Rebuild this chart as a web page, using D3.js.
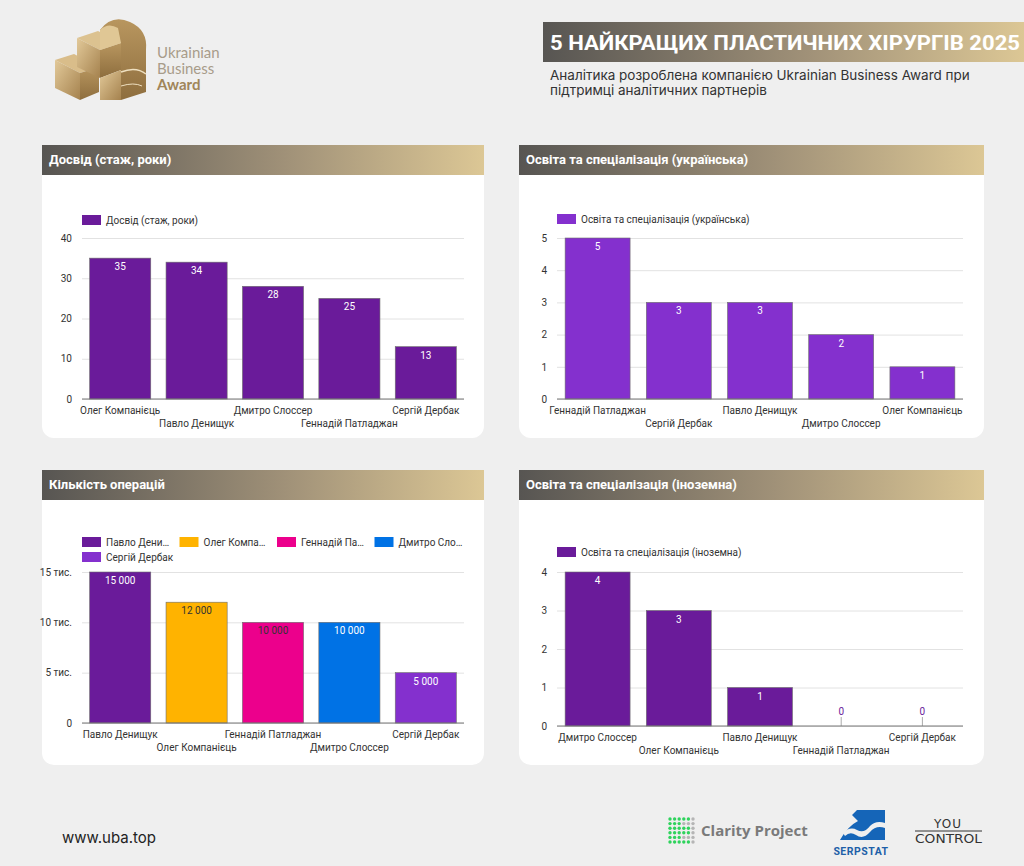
<!DOCTYPE html>
<html lang="uk">
<head>
<meta charset="UTF-8">
<title>5 найкращих пластичних хірургів 2025</title>
<style>
  body { margin: 0; background: #efefef; }
  svg { display: block; }
</style>
</head>
<body>
<div class="canvas"></div>
<script src="https://cdnjs.cloudflare.com/ajax/libs/d3/7.8.5/d3.min.js"></script>
<script>
// ---- data ----
const expNames = ['Олег Компанієць', 'Павло Денищук', 'Дмитро Слоссер', 'Геннадій Патладжан', 'Сергій Дербак'];
const expValues = [35, 34, 28, 25, 13];
const expTicks = [0, 10, 20, 30, 40];

const uaNames = ['Геннадій Патладжан', 'Сергій Дербак', 'Павло Денищук', 'Дмитро Слоссер', 'Олег Компанієць'];
const uaValues = [5, 3, 3, 2, 1];
const uaTicks = [0, 1, 2, 3, 4, 5];

const opsNames = ['Павло Денищук', 'Олег Компанієць', 'Геннадій Патладжан', 'Дмитро Слоссер', 'Сергій Дербак'];
const opsValues = [15000, 12000, 10000, 10000, 5000];
const opsTicks = [0, 5000, 10000, 15000];
const opsTickLabels = ['0', '5 тис.', '10 тис.', '15 тис.'];
const opsLegend = ['Павло Дени…', 'Олег Компа…', 'Геннадій Па…', 'Дмитро Сло…', 'Сергій Дербак'];
const opsColors = ['#6a1b9a', '#ffb300', '#ec008c', '#0072e5', '#8430ce'];

const intNames = ['Дмитро Слоссер', 'Олег Компанієць', 'Павло Денищук', 'Геннадій Патладжан', 'Сергій Дербак'];
const intValues = [4, 3, 1, 0, 0];
const intTicks = [0, 1, 2, 3, 4];

const svg = d3.select('.canvas').append('svg')
  .attr('width', 1024)
  .attr('height', 866);

svg.append('rect').attr('width', 1024).attr('height', 866).attr('fill', '#efefef');

const defs = svg.append('defs');
const grad = defs.append('linearGradient').attr('id', 'hdr').attr('x1', 0).attr('x2', 1);
grad.append('stop').attr('offset', 0).attr('stop-color', '#575552');
grad.append('stop').attr('offset', 0.55).attr('stop-color', '#a09178');
grad.append('stop').attr('offset', 1).attr('stop-color', '#dcc795');

const gold = defs.append('linearGradient').attr('id', 'gold').attr('x1', 0).attr('y1', 0).attr('x2', 1).attr('y2', 1);
gold.append('stop').attr('offset', 0).attr('stop-color', '#e2c999');
gold.append('stop').attr('offset', 1).attr('stop-color', '#a5824e');
const goldDark = defs.append('linearGradient').attr('id', 'goldDark').attr('x1', 0).attr('y1', 0).attr('x2', 0).attr('y2', 1);
goldDark.append('stop').attr('offset', 0).attr('stop-color', '#b8965f');
goldDark.append('stop').attr('offset', 1).attr('stop-color', '#8e6e3e');

// ---- logo ----
const logo = svg.append('g');
// left block
logo.append('path').attr('d', 'M55,60 L74,54 L99,67 L80,73 Z').attr('fill', '#d9bd8a');
logo.append('path').attr('d', 'M55,60 L80,73 L80,100 L55,88 Z').attr('fill', 'url(#gold)');
logo.append('path').attr('d', 'M80,73 L99,67 L99,92 L80,100 Z').attr('fill', 'url(#goldDark)');
// middle block
logo.append('path').attr('d', 'M77,38 L98,31 L121,43 L100,50 Z').attr('fill', '#dcc290');
logo.append('path').attr('d', 'M77,38 L100,50 L100,78 L77,67 Z').attr('fill', 'url(#gold)');
logo.append('path').attr('d', 'M100,50 L121,43 L121,70 L100,78 Z').attr('fill', 'url(#goldDark)');
// right tall block, rounded top
logo.append('path').attr('d', 'M100,30 Q112,14 130,22 Q148,30 146,50 L146,92 L121,100 L121,43 Z').attr('fill', 'url(#goldDark)');
logo.append('path').attr('d', 'M100,30 Q108,22 118,28 L121,43 L100,50 Z').attr('fill', '#e0c795');
logo.append('path').attr('d', 'M100,78 L121,70 L121,100 L100,100 Z').attr('fill', 'url(#gold)');
logo.append('path').attr('d', 'M121,72 Q136,66 146,74').attr('fill', 'none').attr('stroke', '#efe0c0').attr('stroke-width', 1.5);
logo.append('path').attr('d', 'M121,86 Q134,82 142,86').attr('fill', 'none').attr('stroke', '#efe0c0').attr('stroke-width', 1);

logo.append('text').attr('x', 157).attr('y', 58).text('Ukrainian')
  .style('font-family', 'Lato, sans-serif').style('font-size', '15px').attr('fill', '#a89c8a');
logo.append('text').attr('x', 157).attr('y', 74).text('Business')
  .style('font-family', 'Lato, sans-serif').style('font-size', '15px').attr('fill', '#a89c8a');
logo.append('text').attr('x', 157).attr('y', 90).text('Award')
  .style('font-family', 'Lato, sans-serif').style('font-size', '15px').style('font-weight', 'bold').attr('fill', '#a0855a');

// ---- title ----
svg.append('rect').attr('x', 543).attr('y', 22).attr('width', 481).attr('height', 40).attr('fill', 'url(#hdr)');
svg.append('text').attr('x', 550).attr('y', 50)
  .text('5 НАЙКРАЩИХ ПЛАСТИЧНИХ ХІРУРГІВ 2025')
  .attr('textLength', 470).attr('lengthAdjust', 'spacingAndGlyphs')
  .style('font-family', 'Roboto, sans-serif').style('font-weight', 'bold').style('font-size', '21px')
  .attr('fill', '#fff');
svg.append('text').attr('x', 550).attr('y', 80)
  .text('Аналітика розроблена компанією Ukrainian Business Award при')
  .style('font-family', 'Inter, sans-serif').style('font-size', '13.5px').attr('fill', '#333');
svg.append('text').attr('x', 550).attr('y', 95)
  .text('підтримці аналітичних партнерів')
  .style('font-family', 'Inter, sans-serif').style('font-size', '13.5px').attr('fill', '#333');

// ---- panels ----
function drawPanel(p) {
  const g = svg.append('g');
  g.append('rect').attr('x', p.x).attr('y', p.y).attr('width', p.w).attr('height', p.h)
    .attr('rx', 12).attr('fill', '#fff');
  g.append('rect').attr('x', p.x).attr('y', p.y).attr('width', p.w).attr('height', 30)
    .attr('fill', 'url(#hdr)');
  g.append('text').attr('x', p.x + 7).attr('y', p.y + 19).text(p.title)
    .style('font-family', 'Roboto, sans-serif').style('font-weight', 'bold').style('font-size', '13px')
    .attr('fill', '#fff');

  const x = d3.scaleBand().domain(p.names).range(p.xr).paddingInner(0.2).paddingOuter(0.1);
  const y = d3.scaleLinear().domain(p.dom).range(p.yr);

  // grid + y labels
  const yAxis = d3.axisLeft(y).tickValues(p.ticks).tickSize(-(p.xr[1] - p.xr[0])).tickPadding(10)
    .tickFormat((d, i) => p.tickLabels ? p.tickLabels[i] : d);
  const ya = g.append('g').attr('transform', `translate(${p.xr[0]},0)`).call(yAxis);
  ya.select('.domain').remove();
  ya.selectAll('line').attr('stroke', '#e2e2e2');
  ya.selectAll('text').style('font-family', 'Roboto, sans-serif').style('font-size', '10px').attr('fill', '#333');

  // bars with value labels
  p.values.forEach((v, i) => {
    const bx = x(p.names[i]);
    const cx = bx + x.bandwidth() / 2;
    if (v > 0) {
      g.append('rect')
        .attr('x', bx).attr('y', y(v))
        .attr('width', x.bandwidth()).attr('height', y(0) - y(v))
        .attr('fill', p.colors ? p.colors[i] : p.color)
        .attr('stroke', '#6d6d6d').attr('stroke-width', 0.6);
      g.append('text').attr('x', cx).attr('y', y(v) + 12).attr('text-anchor', 'middle')
        .text(d3.format(',')(v).replace(/,/g, ' '))
        .style('font-family', 'Roboto, sans-serif').style('font-size', '10px')
        .attr('fill', p.labelColors ? p.labelColors[i] : '#fff');
    } else {
      // zero value: thin stem with label above
      g.append('line').attr('x1', cx).attr('x2', cx).attr('y1', y(0)).attr('y2', y(0) - 9)
        .attr('stroke', '#aaa').attr('stroke-width', 1);
      g.append('text').attr('x', cx).attr('y', y(0) - 11).attr('text-anchor', 'middle').text(v)
        .style('font-family', 'Roboto, sans-serif').style('font-size', '10px').attr('fill', p.color);
    }
  });

  // baseline
  g.append('line').attr('x1', p.xr[0]).attr('x2', p.xr[1]).attr('y1', y(0)).attr('y2', y(0))
    .attr('stroke', '#777').attr('stroke-width', 1);

  // x labels, staggered
  g.selectAll('.xl').data(p.names).join('text')
    .attr('x', d => x(d) + x.bandwidth() / 2)
    .attr('y', (d, i) => y(0) + (i % 2 ? 28 : 15))
    .attr('text-anchor', 'middle')
    .text(d => d)
    .style('font-family', 'Roboto, sans-serif').style('font-size', '10px').attr('fill', '#333');

  // legend
  p.legend.forEach((name, i) => {
    const lx = p.xr[0] + (i % 4) * 97.5;
    const ly = p.legendY + Math.floor(i / 4) * 15;
    g.append('rect').attr('x', lx).attr('y', ly).attr('width', 19).attr('height', 10)
      .attr('fill', p.colors ? p.colors[i] : p.color);
    g.append('text').attr('x', lx + 24).attr('y', ly + 8.5).text(name)
      .style('font-family', 'Roboto, sans-serif').style('font-size', '10px').attr('fill', '#333');
  });
}

drawPanel({
  x: 42, y: 145, w: 442, h: 293, title: 'Досвід (стаж, роки)',
  names: expNames, values: expValues, ticks: expTicks, dom: [0, 40],
  xr: [82, 464], yr: [399, 238], color: '#6a1b9a',
  legend: ['Досвід (стаж, роки)'], legendY: 215
});
drawPanel({
  x: 519, y: 145, w: 465, h: 293, title: 'Освіта та спеціалізація (українська)',
  names: uaNames, values: uaValues, ticks: uaTicks, dom: [0, 5],
  xr: [557, 963], yr: [399, 238], color: '#8430ce',
  legend: ['Освіта та спеціалізація (українська)'], legendY: 214
});
drawPanel({
  x: 42, y: 470, w: 442, h: 295, title: 'Кількість операцій',
  names: opsNames, values: opsValues, ticks: opsTicks, tickLabels: opsTickLabels, dom: [0, 15000],
  xr: [82, 464], yr: [723, 572], color: '#6a1b9a', colors: opsColors,
  labelColors: ['#fff', '#333', '#333', '#fff', '#fff'],
  legend: opsLegend, legendY: 537
});
drawPanel({
  x: 519, y: 470, w: 465, h: 295, title: 'Освіта та спеціалізація (іноземна)',
  names: intNames, values: intValues, ticks: intTicks, dom: [0, 4],
  xr: [557, 963], yr: [726, 572], color: '#6a1b9a',
  legend: ['Освіта та спеціалізація (іноземна)'], legendY: 547
});

// ---- footer ----
svg.append('text').attr('x', 62).attr('y', 843).text('www.uba.top')
  .style('font-family', 'Inter, sans-serif').style('font-size', '15px').attr('fill', '#222');

// clarity project dots
const dotGrid = d3.range(36).map(i => ({ c: i % 6, r: Math.floor(i / 6) }));
svg.append('g').selectAll('circle').data(dotGrid).join('circle')
  .attr('cx', d => 670 + d.c * 4.6)
  .attr('cy', d => 819 + d.r * 4.6)
  .attr('r', 1.7)
  .attr('fill', d => (d.c >= 3 && (d.r === 1 || d.r === 4 || d.c === 5)) ? '#b5b5b5' : '#2ed35c');
svg.append('text').attr('x', 701).attr('y', 836).text('Clarity Project')
  .style('font-family', '"Open Sans", sans-serif').style('font-weight', 'bold').style('font-size', '15px')
  .attr('fill', '#7a7a7a');

// serpstat
svg.append('path').attr('d', 'M857,810 L885,810 L885,840 L840,840 Q848,826 858,821 L852,815 Z').attr('fill', '#1565b8');
svg.append('path').attr('d', 'M843,833 Q850,826 857,830 Q864,834 870,826 Q876,820 885,823 L885,828 Q876,825 870,832 Q863,840 856,835 Q850,831 845,836 Z').attr('fill', '#efefef');
svg.append('text').attr('x', 861).attr('y', 855).attr('text-anchor', 'middle').text('SERPSTAT')
  .style('font-family', 'Roboto, sans-serif').style('font-weight', 'bold').style('font-size', '10.5px')
  .attr('fill', '#1e5fa8').attr('letter-spacing', '0.5px');

// you control
svg.append('text').attr('x', 948).attr('y', 828).attr('text-anchor', 'middle').text('YOU')
  .style('font-family', '"DejaVu Sans", sans-serif').style('font-size', '12px').attr('fill', '#333')
  .attr('letter-spacing', '1px');
svg.append('line').attr('x1', 915).attr('x2', 982).attr('y1', 831).attr('y2', 831).attr('stroke', '#333');
svg.append('text').attr('x', 915).attr('y', 843).text('CONTROL')
  .attr('textLength', 67).attr('lengthAdjust', 'spacingAndGlyphs')
  .style('font-family', '"DejaVu Sans", sans-serif').style('font-size', '12px').attr('fill', '#333');
</script>
</body>
</html>
